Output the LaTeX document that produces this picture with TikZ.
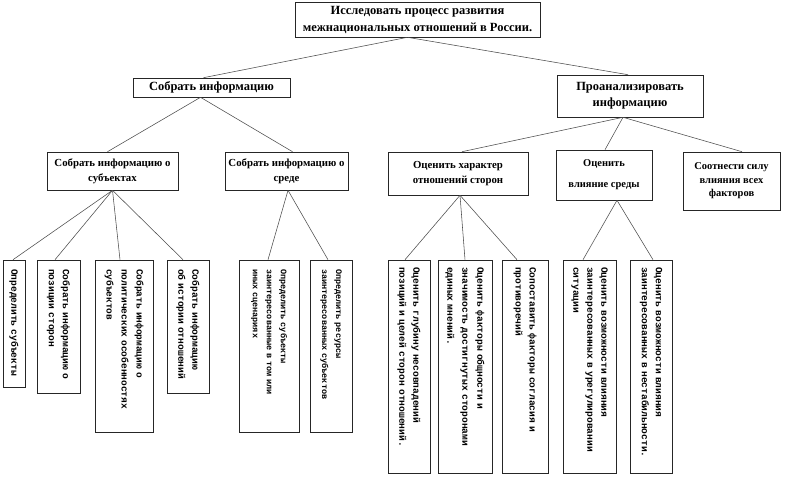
\documentclass[tikz,border=0pt]{standalone}
\usepackage{fontspec}
\setmainfont{Liberation Serif}
\setmonofont{Liberation Mono}
\usetikzlibrary{calc}
\tikzset{
  hbox/.style={draw=black!85, line width=0.6pt, align=center, inner sep=1pt},
  vbox/.style={draw=black!85, line width=0.6pt, rotate=-90, align=left, inner xsep=9pt, inner ysep=0pt},
  link/.style={draw=black!70, line width=0.55pt}
}
\begin{document}
\begin{tikzpicture}[x=1pt,y=-1pt]
\fill[white] (0,0) rectangle (800,477);
\useasboundingbox (0,0) rectangle (800,477);

% level 1
\node[hbox, minimum width=245pt, minimum height=35pt, font=\fontsize{12.5}{17}\selectfont\bfseries] (top) at (417.5,19.5)
  {Исследовать процесс развития\\межнациональных отношений в России.};

% level 2
\node[hbox, minimum width=157pt, minimum height=19pt, font=\fontsize{12.5}{14}\selectfont\bfseries] (l2a) at (211.5,87.5) {Собрать информацию};
\node[hbox, minimum width=146pt, minimum height=42pt, font=\fontsize{12.5}{16}\selectfont\bfseries] (l2b) at (630,96) {Проанализировать\\информацию};

% level 3
\node[hbox, minimum width=131pt, minimum height=38pt, font=\fontsize{10.8}{15}\selectfont\bfseries] (l3a) at (112.5,171) {Собрать информацию о\\субъектах};
\node[hbox, minimum width=123pt, minimum height=38pt, font=\fontsize{10.8}{15}\selectfont\bfseries] (l3b) at (286.5,171) {Собрать информацию о\\среде};
\node[hbox, minimum width=140pt, minimum height=43pt, font=\fontsize{10.8}{15}\selectfont\bfseries] (l3c) at (458,173.5) {Оценить характер\\отношений сторон};
\node[hbox, minimum width=96pt, minimum height=50pt, font=\fontsize{10.5}{15}\selectfont\bfseries] (l3d) at (604,175) {Оценить\\[6pt]влияние среды};
\node[hbox, minimum width=97pt, minimum height=58pt, font=\fontsize{10.5}{13.5}\selectfont\bfseries] (l3e) at (731.5,181) {Соотнести силу\\влияния всех\\факторов};

% level 4 (vertical)
\node[vbox, minimum width=127pt, minimum height=22pt, text width=109pt, font=\fontsize{9.6}{14}\selectfont\ttfamily\bfseries] (b1) at (14,323.5) {Определить субъекты};
\node[vbox, minimum width=133pt, minimum height=43pt, text width=115pt, font=\fontsize{9.6}{14}\selectfont\ttfamily\bfseries] (b2) at (58.5,326.5) {Собрать информацию о\\позиции сторон};
\node[vbox, minimum width=172pt, minimum height=58pt, text width=154pt, font=\fontsize{9.5}{15}\selectfont\ttfamily\bfseries] (b3) at (124,346) {Собрать информацию о\\политических особенностях\\субъектов};
\node[vbox, minimum width=133pt, minimum height=42pt, text width=115pt, font=\fontsize{9.6}{14}\selectfont\ttfamily\bfseries] (b4) at (188,326.5) {Собрать информацию\\об истории отношений};
\node[vbox, minimum width=172pt, minimum height=60pt, text width=154pt, font=\fontsize{8.5}{14}\selectfont\ttfamily\bfseries] (b5) at (269,346) {Определить субъекты\\заинтересованные в том или\\иных сценариях};
\node[vbox, minimum width=172pt, minimum height=42pt, text width=154pt, font=\fontsize{8.5}{14}\selectfont\ttfamily\bfseries] (b6) at (331,346) {Определить ресурсы\\заинтересованных субъектов};
\node[vbox, inner xsep=7pt, minimum width=213pt, minimum height=42pt, text width=199pt, font=\fontsize{9.6}{14}\selectfont\ttfamily\bfseries] (b7) at (409,366.5) {Оценить глубину несовпадений\\позиций и целей сторон отношений.};
\node[vbox, inner xsep=7pt, minimum width=213pt, minimum height=54pt, text width=199pt, font=\fontsize{9.6}{15}\selectfont\ttfamily\bfseries] (b8) at (465,366.5) {Оценить факторы общности и\\значимость достигнутых сторонами\\единых мнений.};
\node[vbox, inner xsep=7pt, minimum width=213pt, minimum height=46pt, text width=199pt, font=\fontsize{9.6}{14}\selectfont\ttfamily\bfseries] (b9) at (525,366.5) {Сопоставить факторы согласия и\\противоречий};
\node[vbox, inner xsep=7pt, minimum width=213pt, minimum height=53pt, text width=199pt, font=\fontsize{9.6}{14}\selectfont\ttfamily\bfseries] (b10) at (589.5,366.5) {Оценить возможности влияния\\заинтересованных в урегулировании\\ситуации};
\node[vbox, inner xsep=7pt, minimum width=213pt, minimum height=42pt, text width=199pt, font=\fontsize{9.6}{14}\selectfont\ttfamily\bfseries] (b11) at (651,366.5) {Оценить возможности влияния\\заинтересованных в нестабильности.};

% connectors level 1 -> 2
\draw[link] ($(top.south)+(-10,0)$) -- ($(l2a.north)+(-8,0)$);
\draw[link] ($(top.south)+(-10,0)$) -- ($(l2b.north)+(-2,0)$);
% level 2 -> 3
\draw[link] ($(l2a.south)+(-11,0)$) -- ($(l3a.north)+(-5,0)$);
\draw[link] ($(l2a.south)+(-11,0)$) -- ($(l3b.north)+(6,0)$);
\draw[link] ($(l2b.south)+(-7,0)$) -- ($(l3c.north)+(4,0)$);
\draw[link] ($(l2b.south)+(-7,0)$) -- ($(l3d.north)+(1,0)$);
\draw[link] ($(l2b.south)+(-7,0)$) -- ($(l3e.north)+(10.5,0)$);
% level 3 -> 4
\draw[link] (l3a.south) -- ($(b1.west)+(-1,0)$);
\draw[link] (l3a.south) -- ($(b2.west)+(-3.5,0)$);
\draw[link] (l3a.south) -- ($(b3.west)+(-4,0)$);
\draw[link] (l3a.south) -- ($(b4.west)+(-5,0)$);
\draw[link] ($(l3b.south)+(1.5,0)$) -- ($(b5.west)+(-1,0)$);
\draw[link] ($(l3b.south)+(1.5,0)$) -- ($(b6.west)+(-3,0)$);
\draw[link] ($(l3c.south)+(2,0)$) -- ($(b7.west)+(-4,0)$);
\draw[link] ($(l3c.south)+(2,0)$) -- (b8.west);
\draw[link] ($(l3c.south)+(2,0)$) -- ($(b9.west)+(-8,0)$);
\draw[link] ($(l3d.south)+(13,0)$) -- ($(b10.west)+(-6.5,0)$);
\draw[link] ($(l3d.south)+(13,0)$) -- ($(b11.west)+(2,0)$);
\end{tikzpicture}
\end{document}
